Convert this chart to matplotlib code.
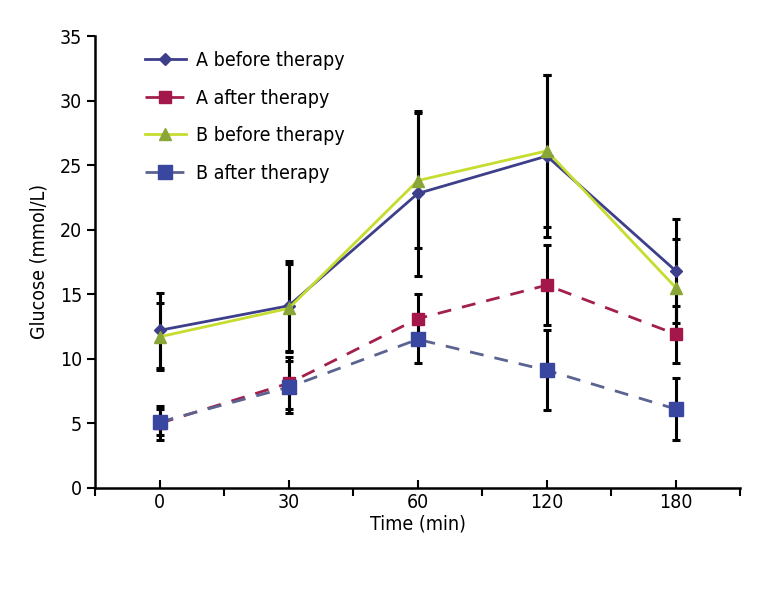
import matplotlib

matplotlib.use("Agg")

import matplotlib.pyplot as plt
import numpy as np

plt.rcParams["font.family"] = ["DejaVu Sans"]
plt.rcParams["font.stretch"] = "condensed"

TIMES = ["0", "30", "60", "120", "180"]

A_BEFORE = [12.2, 14.1, 22.8, 25.7, 16.8]
A_BEFORE_ERR = [2.9, 3.5, 6.4, 6.3, 4.0]
A_AFTER = [5.0, 8.1, 13.1, 15.7, 11.9]
A_AFTER_ERR = [1.3, 2.0, 1.9, 3.1, 2.2]
B_BEFORE = [11.7, 13.9, 23.8, 26.1, 15.5]
B_BEFORE_ERR = [2.6, 3.4, 5.2, 5.9, 3.8]
B_AFTER = [5.1, 7.8, 11.5, 9.1, 6.1]
B_AFTER_ERR = [1.0, 2.0, 1.8, 3.1, 2.4]

SERIES = [
    ("A before therapy", A_BEFORE, A_BEFORE_ERR, "#3d3f8a", "-", "D", "#3d3f8a", 6),
    ("A after therapy", A_AFTER, A_AFTER_ERR, "#a3204c", (0, (5, 4)), "s", "#a3174a", 8),
    ("B before therapy", B_BEFORE, B_BEFORE_ERR, "#c6dc2e", "-", "^", "#8aa636", 8),
    ("B after therapy", B_AFTER, B_AFTER_ERR, "#5b6390", (0, (5, 4)), "s", "#3a47a0", 10),
]

x = np.arange(len(TIMES))

fig = plt.figure(figsize=(7.68, 6.0), dpi=100)
ax = fig.add_axes([0.124, 0.187, 0.84, 0.753])

for label, vals, err, color, ls, marker, mcolor, ms in SERIES:
    ax.errorbar(x, vals, yerr=err, fmt="none", ecolor="black", elinewidth=2.2,
                capsize=3, capthick=2.2, zorder=2)
for label, vals, err, color, ls, marker, mcolor, ms in SERIES:
    ax.plot(x, vals, color=color, linestyle=ls, linewidth=2, marker=marker,
            markersize=ms, markerfacecolor=mcolor, markeredgecolor=mcolor,
            label=label, zorder=3)

ax.set_xlim(-0.5, 4.5)
ax.set_ylim(0, 35)
ax.set_yticks(np.arange(0, 36, 5))
ax.set_xticks(x)
ax.set_xticklabels(TIMES)
ax.set_xticks(np.arange(-0.5, 4.6, 1), minor=True)
ax.tick_params(axis="x", which="major", direction="in", length=6, width=1.5, labelsize=14)
ax.tick_params(axis="x", which="minor", direction="out", length=6, width=1.5)
ax.tick_params(axis="y", direction="out", length=6, width=1.5, labelsize=14)
for side in ["top", "right"]:
    ax.spines[side].set_visible(False)
for side in ["left", "bottom"]:
    ax.spines[side].set_linewidth(1.8)

ax.set_xlabel("Time (min)", fontsize=14, labelpad=2)
ax.set_ylabel("Glucose (mmol/L)", fontsize=14, labelpad=8)

ax.legend(loc="upper left", bbox_to_anchor=(0.05, 1.005), frameon=False,
          fontsize=14, handlelength=2.1, labelspacing=0.95, handletextpad=0.5)

fig.savefig("out.png", dpi=100)
